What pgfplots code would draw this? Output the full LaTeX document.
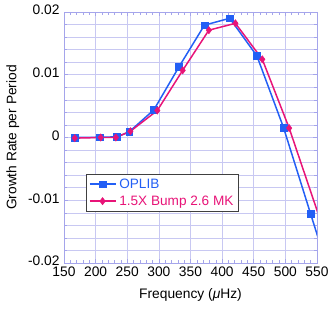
\documentclass[border=0pt]{standalone}
\usepackage{fontspec}
\setmainfont{Liberation Sans}
\usepackage{pgfplots}
\pgfplotsset{compat=1.18}
\definecolor{cblue}{RGB}{35,95,245}
\definecolor{cpink}{RGB}{232,20,120}
\definecolor{cgrid}{RGB}{200,200,242}
\definecolor{cframe}{RGB}{165,165,235}
\begin{document}
\begin{tikzpicture}
\begin{axis}[
  scale only axis,
  width=253bp, height=251bp,
  xmin=150, xmax=550, ymin=-0.02, ymax=0.02,
  xtick={150,200,...,550},
  ytick={-0.02,-0.01,0,0.01,0.02},
  yticklabels={-0.02,-0.01,0,0.01,0.02},
  minor x tick num=4,
  minor y tick num=4,
  xmajorgrids, ymajorgrids, yminorgrids,
  major grid style={cgrid, line width=0.6pt},
  minor grid style={cgrid, line width=0.6pt},
  axis line style={cframe, line width=0.8pt},
  tick style={cframe, line width=0.6pt},
  major tick length=4bp, minor tick length=3bp,
  tick align=inside,
  tick pos=both,
  /pgf/number format/assume math mode=true,
  ticklabel style={font=\fontsize{13.8bp}{16bp}\selectfont, black},
  xticklabel style={yshift=-1.5bp, inner ysep=2bp},
  yticklabel style={xshift=-1bp, yshift=2bp, inner ysep=0bp},
  scaled y ticks=false,
  label style={font=\fontsize{13.8bp}{16bp}\selectfont},
  xlabel={Frequency ({\itshape μ}Hz)},
  ylabel={Growth Rate per Period},
  xlabel style={yshift=-7bp},
  ylabel style={yshift=2bp},
  legend style={at={(0.087,0.355)}, anchor=north west, draw=black!75, line width=0.6pt,
    font=\fontsize{13.6bp}{16bp}\selectfont, inner xsep=2.5bp, inner ysep=2.5bp, row sep=2bp,
    legend cell align=left,
    /tikz/every odd column/.append style={column sep=1bp}},
  legend image code/.code={\draw[#1, mark repeat=2, mark phase=2] plot coordinates {(0bp,0bp) (13bp,0bp) (26bp,0bp)};},
]
\addplot[cblue, line width=1.5pt, mark=square*, mark size=3.4bp, mark options={fill=cblue, line width=0.5pt}] coordinates {
(167,0.0) (207,0.00005) (234,0.0001) (253,0.0009) (292,0.0044) (332,0.0113)
(372,0.0179) (412,0.0190) (455,0.0130) (497,0.0016) (540,-0.0122) (583,-0.0260)
};
\addlegendentry{\textcolor{cblue}{OPLIB}}
\addplot[cpink, line width=1.5pt, mark=diamond*, mark size=3.6bp, mark options={fill=cpink, line width=0.5pt}] coordinates {
(167,-0.0001) (208,0.0) (232,0.0) (255,0.001) (297.5,0.0043) (337.6,0.0107)
(379,0.0171) (421,0.0182) (463.5,0.01246) (506,0.0015) (590,-0.0235)
};
\addlegendentry{\textcolor{cpink}{1.5X Bump 2.6 MK}}
\end{axis}
\pgfresetboundingbox
\path ([shift={(-64bp,-50bp)}]current axis.south west) rectangle ([shift={(15bp,12bp)}]current axis.north east);
\end{tikzpicture}
\end{document}
